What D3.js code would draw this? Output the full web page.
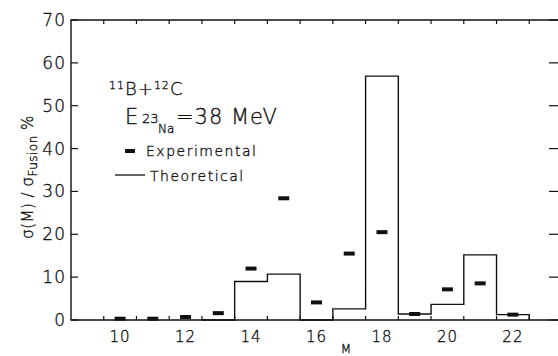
<!DOCTYPE html>
<html lang="en">
    <head>
        <meta charset="utf-8">
        <title>Mass distribution 11B+12C</title>
        <script type="text/javascript" src="https://d3js.org/d3.v7.min.js"></script>
        <style type="text/css">
          body { margin: 0; background: #fff; }
          svg text { font-family: "DejaVu Sans", sans-serif; fill: #111; font-weight: 200; stroke: #111; stroke-width: 0.35px; }
        </style>
    </head>
    <body>
        <script type="text/javascript">
        var w = 558;
        var h = 356;

        // experimental points (M, sigma(M)/sigma_fusion %)
        var expMass = [10, 11, 12, 13, 14, 15, 16, 17, 18, 19, 20, 21, 22];
        var expVals = [0.3, 0.3, 0.7, 1.6, 12.0, 28.4, 4.1, 15.5, 20.5, 1.4, 7.15, 8.55, 1.25];

        // theoretical histogram, one bin per mass
        var theoMass = [13, 14, 15, 16, 17, 18, 19, 20, 21, 22];
        var theoVals = [0, 9.0, 10.7, 0, 2.6, 56.9, 1.4, 3.65, 15.2, 1.25];

        var xTickLabels = [10, 12, 14, 16, 18, 20, 22];
        var yTickLabels = [0, 10, 20, 30, 40, 50, 60, 70];

        var margin = {top: 20, left: 71, bottom: 36};
        var rightEdge = 560;
        var ink = "#111";

        var svg = d3.select("body").append("svg")
                    .attr("width", w)
                    .attr("height", h);

        var x = d3.scaleLinear()
            .domain([8.5, 23.5])
            .range([margin.left, 562]);

        var y = d3.scaleLinear()
            .domain([0, 70])
            .range([h - margin.bottom, margin.top]);

        // frame
        svg.append("path")
            .attr("d", "M" + rightEdge + "," + y(70) + "H" + margin.left + "V" + y(0) + "H" + rightEdge)
            .attr("fill", "none")
            .attr("stroke", ink)
            .attr("stroke-width", 1.4);

        // half-integer ticks (bin edges) on bottom and top
        var halfTicks = d3.range(9.5, 23, 1);
        svg.selectAll(".tb")
          .data(halfTicks)
          .enter()
          .append("line")
            .attr("x1", function(d){ return x(d); })
            .attr("x2", function(d){ return x(d); })
            .attr("y1", y(0))
            .attr("y2", y(0) - 4)
            .attr("stroke", ink)
            .attr("stroke-width", 1.2);

        svg.selectAll(".tt")
          .data(halfTicks)
          .enter()
          .append("line")
            .attr("x1", function(d){ return x(d); })
            .attr("x2", function(d){ return x(d); })
            .attr("y1", y(70))
            .attr("y2", y(70) + 4)
            .attr("stroke", ink)
            .attr("stroke-width", 1.2);

        // left and right ticks
        svg.selectAll(".tl")
          .data(yTickLabels)
          .enter()
          .append("line")
            .attr("x1", margin.left)
            .attr("x2", margin.left + 7)
            .attr("y1", function(d){ return y(d); })
            .attr("y2", function(d){ return y(d); })
            .attr("stroke", ink)
            .attr("stroke-width", 1.2);

        svg.selectAll(".tr")
          .data(yTickLabels)
          .enter()
          .append("line")
            .attr("x1", rightEdge - 11)
            .attr("x2", rightEdge)
            .attr("y1", function(d){ return y(d); })
            .attr("y2", function(d){ return y(d); })
            .attr("stroke", ink)
            .attr("stroke-width", 1.2);

        svg.selectAll(".ylab")
          .data(yTickLabels)
          .enter()
          .append("text")
            .attr("x", 66)
            .attr("y", function(d){ return y(d) + 6; })
            .attr("text-anchor", "end")
            .attr("font-size", "17px")
            .attr("letter-spacing", "1px")
            .text(function(d){ return d; });

        svg.selectAll(".xlab")
          .data(xTickLabels)
          .enter()
          .append("text")
            .attr("x", function(d){ return x(d); })
            .attr("y", 342)
            .attr("text-anchor", "middle")
            .attr("font-size", "15px")
            .attr("letter-spacing", "1px")
            .text(function(d){ return d; });

        svg.append("text")
            .attr("x", 346)
            .attr("y", 353)
            .attr("text-anchor", "middle")
            .attr("font-size", "12px")
            .text("M");

        // y title
        var yt = svg.append("text")
            .attr("transform", "translate(33," + 177 + ") rotate(-90)")
            .attr("text-anchor", "middle")
            .attr("font-size", "15px")
            .attr("letter-spacing", "0.5px");
        yt.append("tspan").text("σ(M) / σ");
        yt.append("tspan").attr("dy", 4).attr("font-size", "12px").text("Fusion");
        yt.append("tspan").attr("dy", -4).text(" %");

        // theoretical histogram
        var histPts = [[theoMass[0] - 0.5, 0]];
        theoMass.forEach(function(m, i){
          histPts.push([m - 0.5, theoVals[i]]);
          histPts.push([m + 0.5, theoVals[i]]);
        });
        histPts.push([theoMass[theoMass.length - 1] + 0.5, 0]);

        var line = d3.line()
            .x(function(d) { return x(d[0]); })
            .y(function(d) { return y(d[1]); });

        svg.append("path")
            .datum(histPts)
            .attr("fill", "none")
            .attr("stroke", ink)
            .attr("stroke-width", 1.4)
            .attr("d", line);

        // experimental markers
        svg.selectAll(".exp")
          .data(expMass)
          .enter()
          .append("rect")
            .attr("x", function(d){ return x(d) - 5.5; })
            .attr("y", function(d, i){ return y(expVals[i]) - 2; })
            .attr("width", 11)
            .attr("height", 4)
            .attr("fill", ink);

        // annotation
        var t1 = svg.append("text")
            .attr("x", 109)
            .attr("y", 95)
            .attr("font-size", "18px")
            .attr("letter-spacing", "1px");
        t1.append("tspan").attr("font-size", "11px").attr("dy", -6).text("11");
        t1.append("tspan").attr("dy", 6).text("B+");
        t1.append("tspan").attr("font-size", "11px").attr("dy", -6).text("12");
        t1.append("tspan").attr("dy", 6).text("C");

        var t2 = svg.append("text")
            .attr("x", 125)
            .attr("y", 124)
            .attr("font-size", "21px");
        t2.append("tspan").text("E");
        t2.append("tspan").attr("font-size", "13px").attr("x", 142).attr("dy", -1).text("23");
        t2.append("tspan").attr("font-size", "12px").attr("x", 158).attr("dy", 10).text("Na");
        t2.append("tspan").attr("x", 176).attr("dy", -9).attr("letter-spacing", "1px").text("=38 MeV");

        svg.append("rect")
            .attr("x", 125)
            .attr("y", 149)
            .attr("width", 10)
            .attr("height", 4)
            .attr("fill", ink);

        svg.append("text")
            .attr("x", 146)
            .attr("y", 156)
            .attr("font-size", "14px")
            .attr("letter-spacing", "1.5px")
            .text("Experimental");

        svg.append("line")
            .attr("x1", 115)
            .attr("x2", 145)
            .attr("y1", 175)
            .attr("y2", 175)
            .attr("stroke", ink)
            .attr("stroke-width", 1.3);

        svg.append("text")
            .attr("x", 150)
            .attr("y", 181)
            .attr("font-size", "14px")
            .attr("letter-spacing", "1.5px")
            .text("Theoretical");
        </script>
    </body>
</html>
